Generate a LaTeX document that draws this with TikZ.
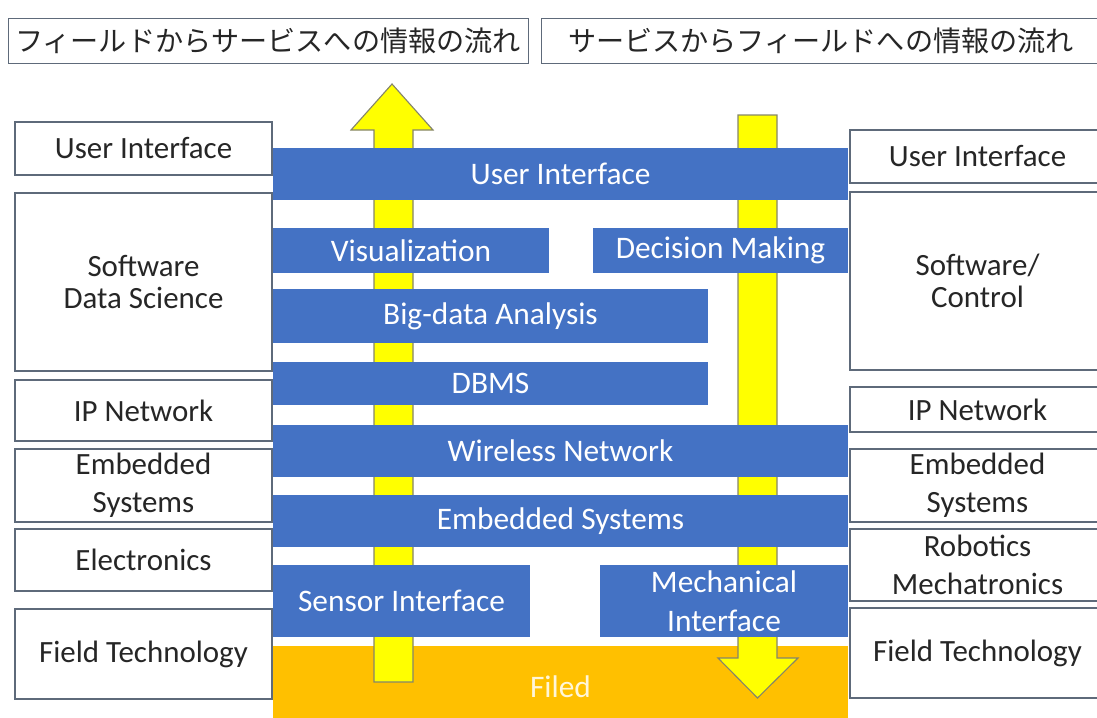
\documentclass[tikz,border=0pt]{standalone}
\usepackage{fontspec}
\setmainfont{Carlito}
\newfontfamily\jpfont{Noto Sans CJK JP}
\usepackage{xcolor}
\usetikzlibrary{positioning}

\definecolor{barblue}{HTML}{4472C4}
\definecolor{fieldorange}{HTML}{FFC000}
\definecolor{flowyellow}{HTML}{FFFF00}
\definecolor{flowedge}{HTML}{85856A}
\definecolor{boxline}{HTML}{5E6A7A}
\definecolor{labeltext}{HTML}{262626}

\tikzset{
  sidebox/.style={draw=boxline, line width=0.8pt, fill=white, inner sep=0pt,
    align=center, text=labeltext, font=\fontsize{22}{27}\selectfont},
  titlebox/.style={draw=boxline, line width=0.6pt, fill=white, inner sep=0pt,
    text=labeltext, font=\jpfont\fontsize{20}{23}\selectfont},
  layerbar/.style={fill=barblue, inner sep=0pt, align=center, text=white,
    font=\fontsize{22.3}{27.5}\selectfont},
  flowarrow/.style={fill=flowyellow, draw=flowedge, line width=0.8pt, line join=miter}
}

\begin{document}
\begin{tikzpicture}[x=0.025cm, y=-0.025cm]
  \useasboundingbox (0,0) rectangle (1097,717);

  % titles
  \node[titlebox, minimum width=13cm, minimum height=1.125cm] (tup) at (268,40.5)
    {フィールドからサービスへの情報の流れ};
  \node[titlebox, minimum width=14cm, minimum height=1.125cm] (tdown) at (821,40.5)
    {サービスからフィールドへの情報の流れ};

  % left column
  \node[sidebox, minimum width=6.425cm, minimum height=1.325cm] (lui) at (143.5,148.5) {User Interface};
  \node[sidebox, minimum width=6.425cm, minimum height=4.45cm, font=\fontsize{22}{23}\selectfont] (lsw) at (143.5,282) {Software\\Data Science};
  \node[sidebox, minimum width=6.425cm, minimum height=1.525cm] (lip) at (143.5,410.5) {IP Network};
  \node[sidebox, minimum width=6.425cm, minimum height=1.825cm] (lemb) at (143.5,485.5) {Embedded\\Systems};
  \node[sidebox, minimum width=6.425cm, minimum height=1.55cm] (lele) at (143.5,560) {Electronics};
  \node[sidebox, minimum width=6.425cm, minimum height=2.25cm] (lfield) at (143.5,654) {Field Technology};

  % right column
  \node[sidebox, minimum width=6.375cm, minimum height=1.325cm] (rui) at (977.5,156.5) {User Interface};
  \node[sidebox, minimum width=6.375cm, minimum height=4.45cm, font=\fontsize{22}{23}\selectfont] (rsw) at (977.5,281) {Software/\\Control};
  \node[sidebox, minimum width=6.375cm, minimum height=1.125cm] (rip) at (977.5,409.5) {IP Network};
  \node[sidebox, minimum width=6.375cm, minimum height=1.825cm] (remb) at (977.5,485.5) {Embedded\\Systems};
  \node[sidebox, minimum width=6.375cm, minimum height=1.8cm] (rrob) at (977.5,565) {Robotics\\Mechatronics};
  \node[sidebox, minimum width=6.375cm, minimum height=2.25cm] (rfield) at (977.5,653) {Field Technology};

  % field layer
  \node[fill=fieldorange, inner sep=0pt, minimum width=14.375cm, minimum height=1.9cm] (filed) at (560.5,684) {};

  % flow up
  \draw[flowarrow] (374,682) -- (374,130) -- (351,130) -- (392,84) -- (433,130) -- (413,130) -- (413,682) -- cycle;
  % flow down
  \draw[flowarrow] (738,115) -- (777,115) -- (777,658) -- (798,658) -- (757.5,698) -- (718,658) -- (738,658) -- cycle;

  \node[text=white!85!fieldorange, font=\fontsize{22.3}{27}\selectfont] (filedtext) at (560.5,687) {Filed};

  % layers
  \node[layerbar, minimum width=14.375cm, minimum height=1.3cm] (bui) at (560.5,174) {User Interface};
  \node[layerbar, minimum width=6.9cm, minimum height=1.125cm] (bvis) at (411,250.5) {Visualization};
  \node[layerbar, minimum width=6.375cm, minimum height=1.125cm] (bdec) at (720.5,250.5) {Decision Making};
  \node[layerbar, minimum width=10.875cm, minimum height=1.35cm] (bbig) at (490.5,316) {Big-data Analysis};
  \node[layerbar, minimum width=10.875cm, minimum height=1.075cm] (bdbms) at (490.5,383.5) {DBMS};
  \node[layerbar, minimum width=14.375cm, minimum height=1.3cm] (bwire) at (560.5,451) {Wireless Network};
  \node[layerbar, minimum width=14.375cm, minimum height=1.3cm] (bemb) at (560.5,521) {Embedded Systems};
  \node[layerbar, minimum width=6.425cm, minimum height=1.8cm] (bsens) at (401.5,601) {Sensor Interface};
  \node[layerbar, minimum width=6.2cm, minimum height=1.8cm] (bmech) at (724,601) {Mechanical\\Interface};
\end{tikzpicture}
\end{document}
